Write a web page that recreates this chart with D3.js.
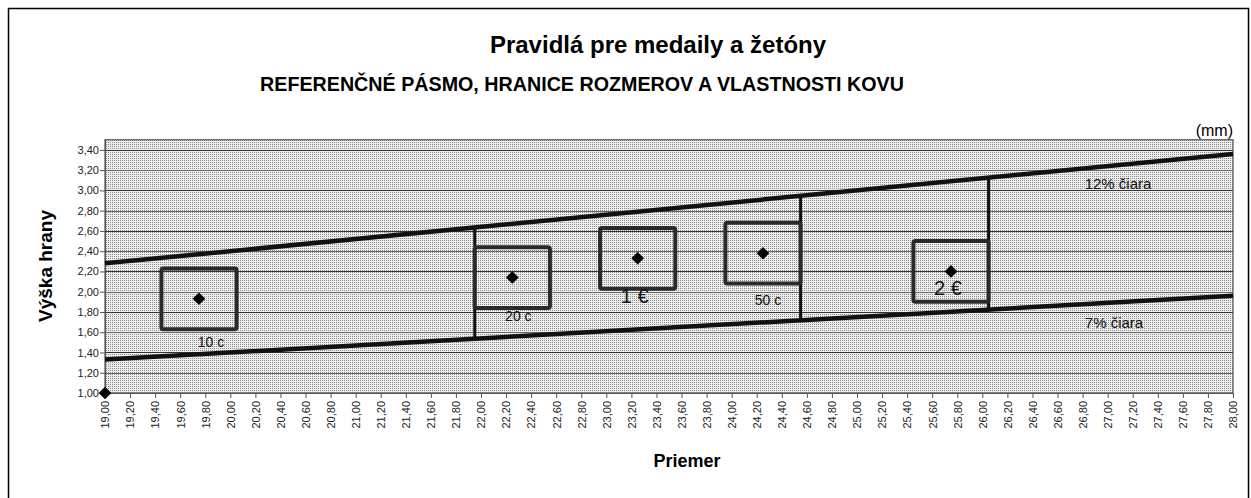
<!DOCTYPE html>
<html><head><meta charset="utf-8">
<script src="https://cdn.jsdelivr.net/npm/d3@7"></script>
<style>body{margin:0;background:#fff}svg{display:block;font-family:"Liberation Sans",Arial,sans-serif}</style>
</head><body>
<script>
// ---- data ----
const coins = ["10 c", "20 c", "1 €", "50 c", "2 €"];
const diameters = [19.75, 22.25, 23.25, 24.25, 25.75];
const edgeHeights = [1.93, 2.14, 2.33, 2.38, 2.20];
const boxHalfWidth = [0.30, 0.30, 0.30, 0.30, 0.30];
const boxHalfHeight = [0.30, 0.30, 0.30, 0.30, 0.30];
const lineDiam = [19.00, 28.00];
const line12 = [2.28, 3.36];
const line7 = [1.33, 1.96];
const lineLabels = ["12% čiara", "7% čiara"];
const boundaryDiam = [21.95, 24.55, 26.05];
const originPoint = [19.00, 1.00];
const yTicks = [1.00, 1.20, 1.40, 1.60, 1.80, 2.00, 2.20, 2.40, 2.60, 2.80, 3.00, 3.20, 3.40];
const xTicks = [19.00,19.20,19.40,19.60,19.80,20.00,20.20,20.40,20.60,20.80,21.00,21.20,21.40,21.60,21.80,22.00,22.20,22.40,22.60,22.80,23.00,23.20,23.40,23.60,23.80,24.00,24.20,24.40,24.60,24.80,25.00,25.20,25.40,25.60,25.80,26.00,26.20,26.40,26.60,26.80,27.00,27.20,27.40,27.60,27.80,28.00];
const title1 = "Pravidlá pre medaily a žetóny";
const title2 = "REFERENČNÉ PÁSMO, HRANICE ROZMEROV A VLASTNOSTI KOVU";
const unitLabel = "(mm)";
const xTitle = "Priemer";
const yTitle = "Výška hrany";

// ---- drawing ----
const W = 1251, H = 498;
const svg = d3.select("body").append("svg").attr("width", W).attr("height", H);
const defs = svg.append("defs");
const pat = defs.append("pattern").attr("id", "dots").attr("width", 2).attr("height", 2).attr("patternUnits", "userSpaceOnUse");
pat.append("rect").attr("width", 2).attr("height", 2).attr("fill", "#eeeeee");
pat.append("rect").attr("width", 1).attr("height", 1).attr("fill", "#8a8a8a");

const fmt = v => v.toFixed(2).replace(".", ",");

svg.append("rect").attr("x", 8.5).attr("y", 8.5).attr("width", 1240).attr("height", 520)
  .attr("fill", "none").attr("stroke", "#000").attr("stroke-width", 1.5);

const x = d3.scaleLinear().domain([19, 28]).range([105, 1233]);
const y = d3.scaleLinear().domain([1, 3.5]).range([393, 139.75]);

// plot area
svg.append("rect").attr("x", x(19)).attr("y", y(3.5)).attr("width", x(28) - x(19)).attr("height", y(1) - y(3.5))
  .attr("fill", "url(#dots)").attr("stroke", "#555").attr("stroke-width", 1.2);

// gridlines
svg.append("g").selectAll("line").data(yTicks.slice(1)).join("line")
  .attr("x1", x(19)).attr("x2", x(28)).attr("y1", d => Math.round(y(d)) + 0.5).attr("y2", d => Math.round(y(d)) + 0.5)
  .attr("stroke", (d, i) => i % 2 ? "#333" : "#666").attr("stroke-width", 1);

// axes
const yAxis = svg.append("g").attr("transform", `translate(${x(19)},0)`)
  .call(d3.axisLeft(y).tickValues(yTicks).tickFormat(fmt).tickSize(5).tickSizeOuter(0));
yAxis.select(".domain").attr("stroke", "#555");
yAxis.selectAll("line").attr("stroke", "#555");
yAxis.selectAll("text").attr("font-size", 11).attr("fill", "#222").attr("dx", 2);

const xAxis = svg.append("g").attr("transform", `translate(0,${y(1)})`)
  .call(d3.axisBottom(x).tickValues(xTicks).tickFormat(fmt).tickSize(5).tickSizeOuter(0));
xAxis.select(".domain").attr("stroke", "#555");
xAxis.selectAll("line").attr("stroke", "#555");
xAxis.selectAll("text").attr("font-size", 11).attr("fill", "#222")
  .attr("transform", "rotate(-90)").attr("text-anchor", "end").attr("x", -8).attr("y", 0).attr("dy", "0.35em");

// 12% and 7% lines
const lineGen = d3.line().x(d => x(d[0])).y(d => y(d[1]));
[line12, line7].forEach(vals => {
  svg.append("path").datum(lineDiam.map((d, i) => [d, vals[i]])).attr("d", lineGen)
    .attr("fill", "none").attr("stroke", "#111").attr("stroke-width", 4.5);
});
// boundary verticals between the two lines
const interp = (vals, d) => vals[0] + (vals[1] - vals[0]) * (d - lineDiam[0]) / (lineDiam[1] - lineDiam[0]);
svg.append("g").selectAll("line").data(boundaryDiam).join("line")
  .attr("x1", d => x(d)).attr("x2", d => x(d))
  .attr("y1", d => y(interp(line12, d))).attr("y2", d => y(interp(line7, d)))
  .attr("stroke", "#111").attr("stroke-width", 3);

// coin boxes
svg.append("g").selectAll("rect").data(coins).join("rect")
  .attr("x", (c, i) => x(diameters[i] - boxHalfWidth[i]))
  .attr("y", (c, i) => y(edgeHeights[i] + boxHalfHeight[i]))
  .attr("width", (c, i) => x(diameters[i] + boxHalfWidth[i]) - x(diameters[i] - boxHalfWidth[i]))
  .attr("height", (c, i) => y(edgeHeights[i] - boxHalfHeight[i]) - y(edgeHeights[i] + boxHalfHeight[i]))
  .attr("rx", 2).attr("fill", "none").attr("stroke", "#2a2a2a").attr("stroke-width", 4);

// diamonds
const diamond = d3.symbol().type(d3.symbolSquare).size(80);
svg.append("g").selectAll("path").data(coins).join("path")
  .attr("d", diamond).attr("transform", (c, i) => `translate(${x(diameters[i])},${y(edgeHeights[i])}) rotate(45)`)
  .attr("fill", "#000");
svg.append("path").attr("d", diamond).attr("transform", `translate(${x(originPoint[0])},${y(originPoint[1])}) rotate(45)`).attr("fill", "#000");

// coin labels (pixel offsets from each coin's box bottom)
const labelStyle = [
  {dx: 12, dy: 14, size: 14}, {dx: 6, dy: 9, size: 14}, {dx: -3, dy: 9, size: 20},
  {dx: 5, dy: 18, size: 14}, {dx: -3, dy: -12, size: 20}
];
svg.append("g").selectAll("text").data(coins).join("text")
  .attr("x", (c, i) => x(diameters[i]) + labelStyle[i].dx)
  .attr("y", (c, i) => y(edgeHeights[i] - boxHalfHeight[i]) + labelStyle[i].dy)
  .attr("text-anchor", "middle").attr("dominant-baseline", "middle")
  .attr("font-size", (c, i) => labelStyle[i].size).attr("fill", "#111").text(c => c);

// line labels
svg.append("text").attr("x", 1118).attr("y", 185).attr("text-anchor", "middle")
  .attr("dominant-baseline", "middle").attr("font-size", 15).attr("fill", "#111").text(lineLabels[0]);
svg.append("text").attr("x", 1114).attr("y", 324).attr("text-anchor", "middle")
  .attr("dominant-baseline", "middle").attr("font-size", 15).attr("fill", "#111").text(lineLabels[1]);

// titles
svg.append("text").attr("x", 658).attr("y", 53).attr("text-anchor", "middle").attr("font-weight", "bold")
  .attr("font-size", 24).text(title1);
svg.append("text").attr("x", 582).attr("y", 91).attr("text-anchor", "middle").attr("font-weight", "bold")
  .attr("font-size", 19.7).text(title2);
svg.append("text").attr("x", 1233).attr("y", 136).attr("text-anchor", "end").attr("font-size", 16).text(unitLabel);
svg.append("text").attr("x", 687).attr("y", 467).attr("text-anchor", "middle").attr("font-weight", "bold")
  .attr("font-size", 18).text(xTitle);
svg.append("text").attr("transform", "translate(52,266) rotate(-90)").attr("text-anchor", "middle")
  .attr("font-weight", "bold").attr("font-size", 19).text(yTitle);
</script>
</body></html>
